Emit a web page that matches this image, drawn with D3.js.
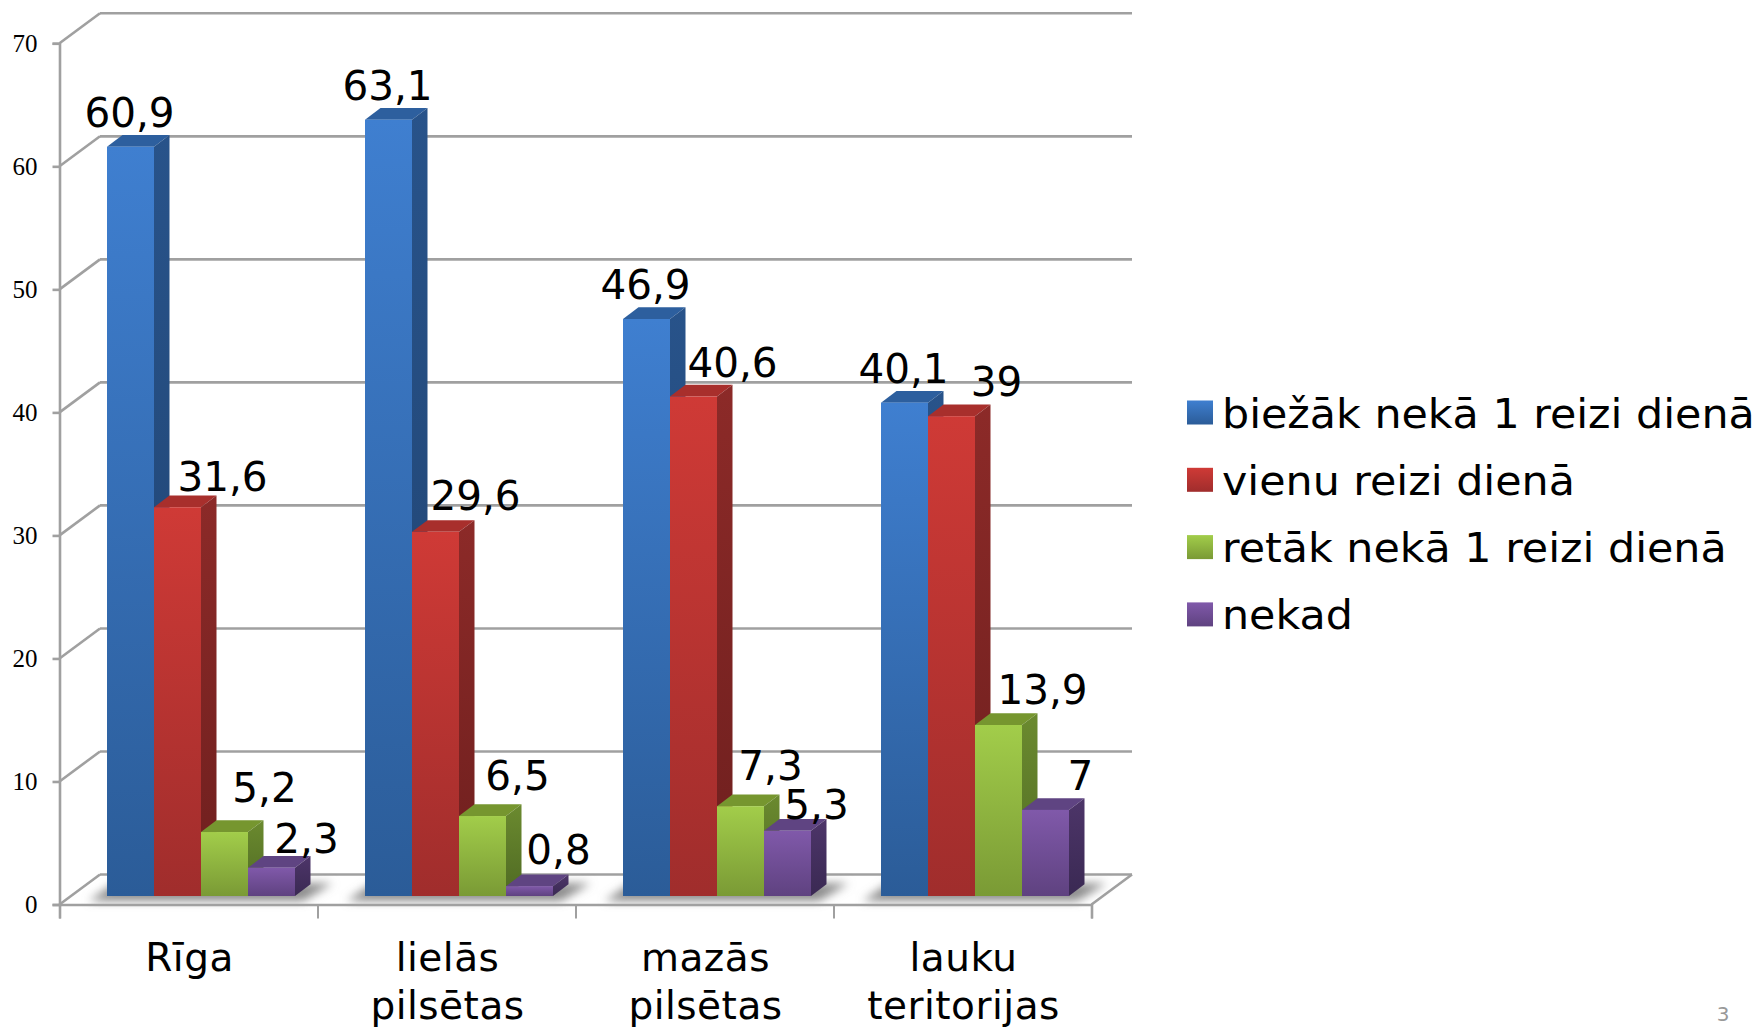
<!DOCTYPE html>
<html>
<head>
<meta charset="utf-8">
<script src="https://d3js.org/d3.v7.min.js"></script>
<style>
  html, body { margin: 0; padding: 0; background: #fff; overflow: hidden; }
  text { font-family: "DejaVu Sans", sans-serif; fill: #000; }
</style>
</head>
<body>
<div id="chart"></div>
<script>
//***************** data *******************/
var categories = [["Rīga"], ["lielās", "pilsētas"], ["mazās", "pilsētas"], ["lauku", "teritorijas"]];
var seriesNames = ["biežāk nekā 1 reizi dienā", "vienu reizi dienā", "retāk nekā 1 reizi dienā", "nekad"];
var biezak = [60.9, 63.1, 46.9, 40.1];
var vienu = [31.6, 29.6, 40.6, 39];
var retak = [5.2, 6.5, 7.3, 13.9];
var nekad = [2.3, 0.8, 5.3, 7];
var seriesValues = [biezak, vienu, retak, nekad];
var yTicks = [0, 10, 20, 30, 40, 50, 60, 70];

//***************** styles *******************/
var frontTop = ["#3f7fd0", "#cf3a36", "#a2cd4a", "#8059aa"];
var frontBottom = ["#2b5c98", "#a02d2c", "#7a9a35", "#5f4280"];
var sideTop = ["#28538a", "#8c2a28", "#6b8a2f", "#4d3569"];
var sideBottom = ["#1f426f", "#6e1f1e", "#4f6a23", "#3a2953"];
var topFace = ["#2d5f9e", "#a82f2c", "#76962f", "#5f4482"];

// label offset from the middle of the bar front [dx, dy], by series then category
var labelNudge = [
  [[-1, -20], [-1, -20], [-1, -20], [-1, -20]],
  [[45, -16], [40, -22], [39, -20], [45, -20]],
  [[40, -30], [35, -26], [30, -26], [44, -21]],
  [[35, -15], [29, -22], [29, -12], [35, -20]]
];

//************* set dimensions ***************/
var width = 1759, height = 1027;
var x0 = 59.5, x1 = 1091.5;      // front edge of the floor
var wallDx = 40.5, wallDy = -30; // depth of the chart box
var barDx = 15.5, barDy = -11.7; // depth of one bar
var baseShift = -8.5;            // bars stand behind the front edge
var legendStretch = 1.07;        // reference font runs wider than DejaVu

//************** setup svg  *****************/
var svg = d3.select("#chart")
  .append("svg")
    .attr("width", width)
    .attr("height", height);

var defs = svg.append("defs");

function addGradient(id, c1, c2) {
  var g = defs.append("linearGradient")
    .attr("id", id)
    .attr("x1", 0).attr("y1", 0).attr("x2", 0).attr("y2", 1);
  g.append("stop").attr("offset", "0%").attr("stop-color", c1);
  g.append("stop").attr("offset", "100%").attr("stop-color", c2);
}
seriesNames.forEach(function(s, i) {
  addGradient("front" + i, frontTop[i], frontBottom[i]);
  addGradient("side" + i, sideTop[i], sideBottom[i]);
});
defs.append("filter").attr("id", "blur")
  .attr("x", "-20%").attr("y", "-150%").attr("width", "140%").attr("height", "400%")
  .append("feGaussianBlur").attr("stdDeviation", 5);

//***************** scales *******************/
var y = d3.scaleLinear().domain([0, 70]).range([904.5, 43.3]);

var xCat = d3.scaleBand().domain(d3.range(categories.length)).range([x0, x1]);

var xBar = d3.scaleBand().domain(d3.range(seriesNames.length)).range([47.5, 235.5]);

//***************** gridlines *******************/
var grey = "#a0a0a0";
var grid = svg.append("g").attr("fill", "none").attr("stroke", grey).attr("stroke-width", 2.6);

grid.selectAll(".back")
  .data(yTicks)
  .enter().append("line")
    .attr("x1", x0 + wallDx)
    .attr("x2", x1 + wallDx)
    .attr("y1", function(d) { return y(d) + wallDy; })
    .attr("y2", function(d) { return y(d) + wallDy; });

grid.selectAll(".diag")
  .data(yTicks)
  .enter().append("line")
    .attr("x1", x0)
    .attr("x2", x0 + wallDx)
    .attr("y1", function(d) { return y(d); })
    .attr("y2", function(d) { return y(d) + wallDy; });

// floor edge on the right
grid.append("line")
  .attr("x1", x1).attr("y1", y(0))
  .attr("x2", x1 + wallDx).attr("y2", y(0) + wallDy);

//***************** floor shadow *******************/
var shadow = svg.append("g").attr("filter", "url(#blur)");
shadow.selectAll("path")
  .data(categories)
  .enter().append("path")
    .attr("fill", "#8c8c8c")
    .attr("d", function(d, i) {
      var l = xCat(i) + xBar(0) - 18;
      var r = xCat(i) + xBar(3) + xBar.bandwidth() + 8;
      var b = y(0) + baseShift + 5;
      return "M" + l + "," + b + "L" + r + "," + b +
             "L" + (r + barDx + 14) + "," + (b + barDy - 6) +
             "L" + (l + barDx + 10) + "," + (b + barDy - 6) + "Z";
    });

//***************** axes *******************/
var yAxis = d3.axisLeft(y).tickValues(yTicks).tickSize(7).tickPadding(15);
var yGroup = svg.append("g")
  .attr("transform", "translate(" + x0 + ",0)")
  .call(yAxis);
yGroup.selectAll("path").attr("stroke", grey).attr("stroke-width", 2.6);
yGroup.selectAll("line").attr("stroke", grey).attr("stroke-width", 2.6);
yGroup.selectAll("text")
  .style("font-family", "'Liberation Serif', serif")
  .style("font-size", "25px")
  .attr("fill", "#111");

var xAxis = d3.axisBottom(d3.scaleLinear().domain([0, 4]).range([x0, x1]))
  .ticks(4).tickSize(14).tickFormat("");
var xGroup = svg.append("g")
  .attr("transform", "translate(0," + y(0) + ")")
  .call(xAxis);
xGroup.selectAll("path").attr("stroke", grey).attr("stroke-width", 2.6);
xGroup.selectAll("line").attr("stroke", grey).attr("stroke-width", 2);

// category labels
var catLabels = svg.selectAll(".cat")
  .data(categories)
  .enter().append("text")
    .attr("class", "cat")
    .attr("text-anchor", "middle")
    .attr("font-size", 39)
    .attr("letter-spacing", 0.5);
catLabels.selectAll("tspan")
  .data(function(d, i) { return d.map(function(t, k) { return {t: t, k: k, i: i}; }); })
  .enter().append("tspan")
    .attr("x", function(d) { return xCat(d.i) + xCat.bandwidth() / 2 + 1; })
    .attr("y", function(d) { return 971 + d.k * 47.5; })
    .text(function(d) { return d.t; });

//***************** bars *******************/
var barBase = y(0) + baseShift;
function barY(v) { return y(v) + baseShift; }

var barData = [];
categories.forEach(function(c, ci) {
  seriesValues.forEach(function(vals, si) {
    barData.push({c: ci, s: si, v: vals[ci]});
  });
});

var bars = svg.selectAll(".bar")
  .data(barData)
  .enter().append("g")
    .attr("class", "bar");

// top face
bars.append("path")
  .attr("fill", function(d) { return topFace[d.s]; })
  .attr("d", function(d) {
    var l = xCat(d.c) + xBar(d.s), r = l + xBar.bandwidth(), t = barY(d.v);
    return "M" + l + "," + t + "L" + r + "," + t +
           "L" + (r + barDx) + "," + (t + barDy) + "L" + (l + barDx) + "," + (t + barDy) + "Z";
  });

// side face
bars.append("path")
  .attr("fill", function(d) { return "url(#side" + d.s + ")"; })
  .attr("d", function(d) {
    var r = xCat(d.c) + xBar(d.s) + xBar.bandwidth(), t = barY(d.v);
    return "M" + r + "," + t + "L" + (r + barDx) + "," + (t + barDy) +
           "L" + (r + barDx) + "," + (barBase + barDy) + "L" + r + "," + barBase + "Z";
  });

// front face
bars.append("rect")
  .attr("x", function(d) { return xCat(d.c) + xBar(d.s); })
  .attr("y", function(d) { return barY(d.v); })
  .attr("width", xBar.bandwidth())
  .attr("height", function(d) { return barBase - barY(d.v); })
  .attr("fill", function(d) { return "url(#front" + d.s + ")"; });

//***************** value labels *******************/
svg.selectAll(".val")
  .data(barData)
  .enter().append("text")
    .attr("class", "val")
    .attr("text-anchor", "middle")
    .attr("font-size", 40.5)
    .attr("x", function(d) { return xCat(d.c) + xBar(d.s) + xBar.bandwidth() / 2 + labelNudge[d.s][d.c][0]; })
    .attr("y", function(d) { return barY(d.v) + labelNudge[d.s][d.c][1]; })
    .text(function(d) { return String(d.v).replace(".", ","); });

//***************** legend *******************/
var legend = svg.selectAll(".legend")
  .data(seriesNames)
  .enter().append("g")
    .attr("class", "legend")
    .attr("transform", function(d, i) { return "translate(1187," + (400.5 + i * 67.3) + ")"; });

legend.append("rect")
  .attr("width", 26)
  .attr("height", 24)
  .attr("fill", function(d, i) { return "url(#front" + i + ")"; });

legend.append("text")
  .attr("transform", "translate(35,27) scale(" + legendStretch + ",1)")
  .attr("font-size", 40)
  .text(function(d) { return d; });

//***************** page number *******************/
svg.append("text")
  .attr("x", 1723)
  .attr("y", 1021)
  .attr("text-anchor", "middle")
  .attr("font-size", 20)
  .style("fill", "#999")
  .text("3");
</script>
</body>
</html>
